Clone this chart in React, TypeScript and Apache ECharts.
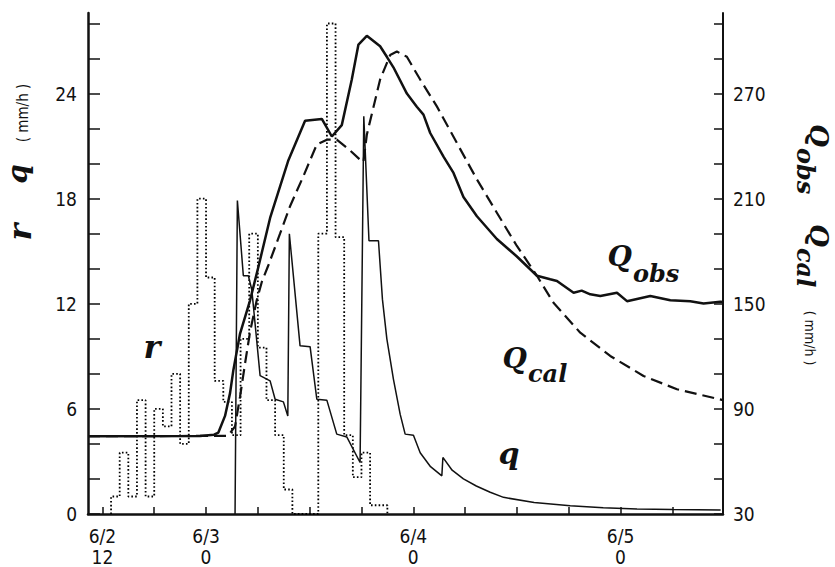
import React, { useEffect, useRef } from "react";
import * as echarts from "echarts";

// ---- axis ticks / labels (hours counted from 6/2 0:00) ----
const timeTickHours = [12, 18, 24, 30, 36, 42, 48, 54, 60, 66, 72, 78];
const timeLabelHours = [12, 24, 48, 72];
const timeLabelText = ["6/2\n12", "6/3\n0", "6/4\n0", "6/5\n0"];
const leftTicks = [0, 2, 4, 6, 8, 10, 12, 14, 16, 18, 20, 22, 24, 26, 28];
const leftLabels = [0, 6, 12, 18, 24];
const rightTicks = [30, 50, 70, 90, 110, 130, 150, 170, 190, 210, 230, 250, 270, 290, 310];
const rightLabels = [30, 90, 150, 210, 270];

// ---- rainfall r (mm/h), hourly blocks starting at hour 13 ----
const rainStartHour = 13;
const rainValues = [1, 3.5, 1, 6.5, 1, 6, 5, 8, 4, 12, 18, 13.5, 7.6, 6.4, 4.5, 10, 16, 9.5, 6.5, 4.5, 1.4, 0, 0, 0, 16, 28, 15.8, 4.5, 2.1, 3.5, 0.5, 0.5];

// ---- q (mm/h) ----
const qHours = [27.36, 27.63, 28.32, 28.9, 29.3, 30.26, 31.42, 32.0, 32.96, 33.47, 33.65, 34.89, 36.05, 36.83, 37.99, 39.14, 40.3, 41.84, 42.27, 42.87, 43.97, 44.43, 44.94, 45.7, 46.48, 47.06, 48.02, 48.8, 50.0, 51.31, 51.43, 52.5, 53.81, 55.3, 56.91, 58.45, 62.0, 66.18, 70.0, 73.91, 78.0, 83.6];
const qValues = [0, 17.9, 13.6, 13.6, 12.8, 7.9, 7.6, 6.55, 6.4, 5.6, 16.0, 9.6, 9.55, 6.55, 6.5, 4.56, 4.4, 2.94, 22.7, 15.6, 15.6, 12.25, 10, 7.7, 5.7, 4.56, 4.5, 3.5, 2.7, 2.18, 3.23, 2.5, 2.0, 1.6, 1.24, 0.95, 0.65, 0.47, 0.36, 0.28, 0.25, 0.23];

// ---- Q_obs (right axis) ----
const qObsHours = [10.33, 23.3, 24.93, 25.43, 26.2, 26.78, 27.16, 27.94, 29.1, 30.06, 31.42, 33.54, 35.47, 37.41, 38.57, 39.72, 40.88, 41.65, 42.62, 44.16, 44.94, 45.7, 47.26, 48.41, 49.18, 49.96, 51.5, 52.66, 53.81, 55.37, 57.68, 60.0, 62.32, 63.86, 64.64, 66.57, 67.5, 68.5, 69.66, 71.59, 72.75, 75.45, 77.77, 80.08, 81.62, 83.56, 83.87];
const qObsValues = [74.4, 74.5, 75.3, 76.5, 86, 99, 112, 133, 152, 171, 199, 232, 254.5, 255.5, 245.5, 252, 278, 298, 303, 297, 291, 285, 270, 262.5, 258, 247.5, 234, 224.7, 211, 200, 187, 177, 166, 164, 163, 156.3, 157.5, 155.4, 154.4, 156.3, 151.5, 154.4, 152, 151.5, 150.2, 151.2, 151];

// ---- Q_cal (right axis) ----
const qCalHours = [10.33, 26.55, 27.36, 27.94, 28.52, 29.1, 29.87, 30.49, 31.22, 32.57, 33.73, 35.27, 36.83, 37.99, 39.14, 40.69, 42.04, 42.23, 42.62, 44.16, 45.32, 46.1, 47.26, 48.8, 50.73, 53.05, 55.37, 57.68, 60.0, 62.32, 64.24, 67.34, 70.81, 74.67, 78.54, 83.87];
const qCalValues = [74.4, 74.6, 80, 97, 116, 134, 152, 163, 172, 190, 205.7, 222.8, 241, 243.7, 243.7, 237.5, 231.3, 231, 246.5, 278, 292, 294, 291, 278, 262.7, 241.8, 221, 202, 183, 166, 150.6, 133.5, 120.2, 108.8, 101.2, 95];

const INK = "#111";
const TICK_FONT = "'Liberation Sans Narrow','DejaVu Sans Condensed','Liberation Sans',sans-serif";
const MATH_FONT = "'DejaVu Serif','Liberation Serif',serif";

function pairs(xs: number[], ys: number[]) {
  return xs.map((x, i) => [x, ys[i]]);
}

export default function App() {
  const ref = useRef<HTMLDivElement>(null);

  useEffect(() => {
    if (!ref.current) return;
    const chart = echarts.init(ref.current, undefined, { renderer: "svg" });

    const rainData: number[][] = [[rainStartHour, 0]];
    rainValues.forEach((v, i) => rainData.push([rainStartHour + i, v]));
    rainData.push([rainStartHour + rainValues.length, 0]);

    const labelStyle = { color: INK, fontFamily: TICK_FONT, fontSize: 19 };

    const mathText = (
      text: string,
      x: number,
      y: number,
      size: number,
      rotation = 0,
      align = "center"
    ) => ({
      type: "text",
      x,
      y,
      rotation,
      silent: true,
      style: {
        text,
        fill: INK,
        fontFamily: MATH_FONT,
        fontSize: size,
        fontStyle: "italic",
        fontWeight: "bold",
        align,
        verticalAlign: "middle",
      },
    });
    const unitText = (x: number, y: number, size: number, rotation: number) => ({
      type: "text",
      x,
      y,
      rotation,
      silent: true,
      style: {
        text: "( mm/h )",
        fill: INK,
        fontFamily: TICK_FONT,
        fontSize: size,
        align: "center",
        verticalAlign: "middle",
      },
    });

    const R = -Math.PI / 2;

    const option: any = {
      animation: false,
      backgroundColor: "#fff",
      grid: { left: 88, right: 112, top: 13, bottom: 52, containLabel: false },
      xAxis: {
        type: "value",
        min: 10.33,
        max: 83.87,
        axisLine: { show: true, onZero: false, lineStyle: { color: INK, width: 2.5 } },
        axisTick: { show: true, inside: true, length: 7, customValues: timeTickHours, lineStyle: { color: INK, width: 1.5 } },
        axisLabel: {
          show: true,
          customValues: timeLabelHours,
          margin: 11,
          lineHeight: 21,
          ...labelStyle,
          formatter: (v: number) => {
            const i = timeLabelHours.indexOf(Math.round(v));
            return i >= 0 ? timeLabelText[i] : "";
          },
        },
        splitLine: { show: false },
      },
      yAxis: [
        {
          type: "value",
          min: 0,
          max: 28.6,
          position: "left",
          axisLine: { show: true, onZero: false, lineStyle: { color: INK, width: 2.5 } },
          axisTick: { show: true, inside: true, length: 12, customValues: leftTicks, lineStyle: { color: INK, width: 1.5 } },
          axisLabel: { show: true, customValues: leftLabels, margin: 11, ...labelStyle },
          splitLine: { show: false },
        },
        {
          type: "value",
          min: 30,
          max: 316,
          position: "right",
          axisLine: { show: true, onZero: false, lineStyle: { color: INK, width: 2 } },
          axisTick: { show: true, inside: true, length: 9, customValues: rightTicks, lineStyle: { color: INK, width: 1.5 } },
          axisLabel: { show: true, customValues: rightLabels, margin: 10, ...labelStyle },
          splitLine: { show: false },
        },
      ],
      series: [
        {
          name: "r",
          type: "line",
          step: "end",
          yAxisIndex: 0,
          data: rainData,
          showSymbol: false,
          z: 1,
          lineStyle: { color: "#000", width: 1.8, type: [1.6, 2.2] },
        },
        {
          name: "q",
          type: "line",
          yAxisIndex: 0,
          data: pairs(qHours, qValues),
          showSymbol: false,
          z: 2,
          lineStyle: { color: INK, width: 1.5 },
        },
        {
          name: "Qcal",
          type: "line",
          yAxisIndex: 1,
          data: pairs(qCalHours, qCalValues),
          showSymbol: false,
          z: 3,
          lineStyle: { color: INK, width: 2.2, type: [12, 6] },
        },
        {
          name: "Qobs",
          type: "line",
          yAxisIndex: 1,
          data: pairs(qObsHours, qObsValues),
          showSymbol: false,
          z: 4,
          lineStyle: { color: INK, width: 2.5 },
        },
      ],
      graphic: [
        // left axis name (rotated, reading upward)
        mathText("r", 20, 232, 32, Math.PI / 2),
        mathText("q", 17, 174, 28, Math.PI / 2),
        unitText(23, 113, 15, Math.PI / 2),
        // right axis name (rotated, reading downward)
        mathText("Q", 819, 147, 26, R, "right"),
        mathText("obs", 805, 148, 24, R, "left"),
        mathText("Q", 819, 247, 26, R, "right"),
        mathText("cal", 805, 248, 24, R, "left"),
        unitText(810, 338, 14, R),
        // in-plot labels
        mathText("r", 152, 347, 32),
        mathText("q", 509, 453, 30),
        mathText("Q", 632, 256, 28, 0, "right"),
        mathText("obs", 633, 273, 24, 0, "left"),
        mathText("Q", 527, 358, 28, 0, "right"),
        mathText("cal", 528, 373, 24, 0, "left"),
      ],
    };

    chart.setOption(option);
    return () => chart.dispose();
  }, []);

  return (
    <div
      ref={ref}
      style={{ position: "absolute", left: 0, top: 0, width: 835, height: 567, background: "#fff" }}
    />
  );
}
